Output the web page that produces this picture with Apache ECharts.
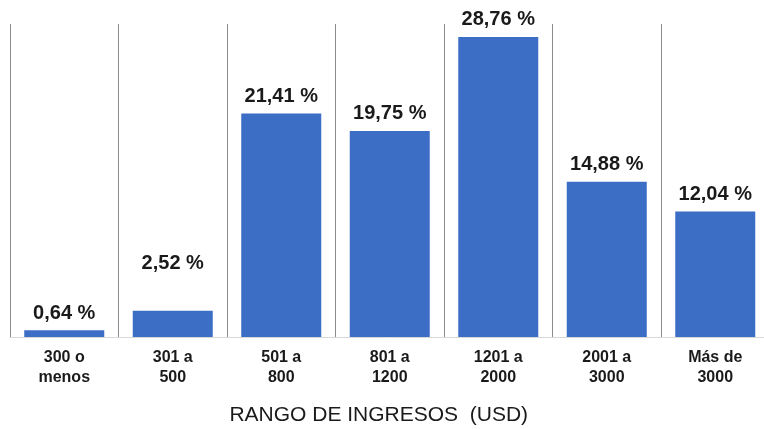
<!DOCTYPE html>
<html>
<head>
<meta charset="utf-8">
<script src="https://cdn.jsdelivr.net/npm/echarts@6/dist/echarts.min.js"></script>
<style>
html,body{margin:0;padding:0;background:#fff;}
#c{width:764px;height:429px;}
</style>
</head>
<body>
<div id="c"></div>
<script>
const categories = ['300 o\nmenos', '301 a\n500', '501 a\n800', '801 a\n1200', '1201 a\n2000', '2001 a\n3000', 'Más de\n3000'];
const percentages = [0.64, 2.52, 21.41, 19.75, 28.76, 14.88, 12.04];
const axisTitle = 'RANGO DE INGRESOS  (USD)';

const chart = echarts.init(document.getElementById('c'), null, {renderer: 'canvas'});
const font = '"Liberation Sans", Arial, sans-serif';
const seriesData = percentages.map((v, i) => i === 1 ? {value: v, label: {offset: [0, -30]}} : v);

chart.setOption({
  animation: false,
  backgroundColor: '#ffffff',
  grid: {left: 10, width: 759.5, top: 24, bottom: 92, outerBoundsMode: 'none', containLabel: false},
  xAxis: {
    type: 'category',
    data: categories,
    axisTick: {show: false},
    axisLine: {show: true, lineStyle: {color: '#d8d8d8', width: 1}},
    splitLine: {show: true, lineStyle: {color: '#8c8c8c', width: 1}},
    axisLabel: {
      interval: 0, margin: 11, fontFamily: font, fontSize: 16, fontWeight: 'bold',
      color: '#1a1a1a', lineHeight: 20
    },
    name: axisTitle,
    nameLocation: 'middle',
    nameGap: 68,
    nameTextStyle: {fontFamily: font, fontSize: 21, color: '#1a1a1a', padding: [0, 22, 0, 0]}
  },
  yAxis: {
    type: 'value', min: 0, max: 30,
    show: false,
    splitLine: {show: false}
  },
  series: [{
    type: 'bar',
    data: seriesData,
    barWidth: 80,
    itemStyle: {color: '#3b6ec4'},
    label: {
      show: true, position: 'top', distance: 7,
      fontFamily: font, fontSize: 20, fontWeight: 'bold', color: '#1a1a1a',
      formatter: p => p.value.toFixed(2).replace('.', ',') + ' %'
    }
  }]
});
</script>
</body>
</html>
